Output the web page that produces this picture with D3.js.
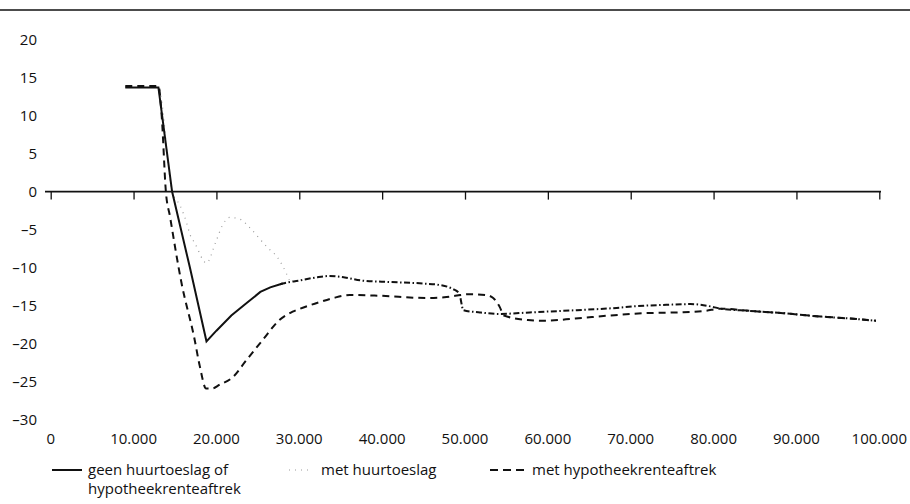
<!DOCTYPE html>
<html>
<head>
<meta charset="utf-8">
<script src="https://cdn.jsdelivr.net/npm/d3@7"></script>
<style>
  html, body { margin: 0; padding: 0; background: #fff; }
  svg { display: block; }
  text { font-family: "Open Sans", "Noto Sans", sans-serif; fill: #111; }
</style>
</head>
<body>
<svg id="chart" width="910" height="504"></svg>
<script>
// Income (euro) on x, percentage difference on y
const xTicks = [0, 10000, 20000, 30000, 40000, 50000, 60000, 70000, 80000, 90000, 100000];
const yTicks = [20, 15, 10, 5, 0, -5, -10, -15, -20, -25, -30];

// geen huurtoeslag of hypotheekrenteaftrek
const geenIncome = [9000, 13000, 14650, 16800, 18800, 20000, 21800, 23500, 25300, 26500, 27700,
  28000, 30000, 32000, 33600, 35500, 37500, 41000, 45000, 47000, 48500, 49300, 49800, 51800, 54200,
  57800, 63500, 68300, 70300, 74300, 77200, 79600, 80800, 84400, 88400, 92400, 96500, 99600];
const geenValue = [13.7, 13.7, 0, -10, -19.7, -18.3, -16.3, -14.8, -13.2, -12.6, -12.2,
  -12.1, -11.7, -11.3, -11.1, -11.3, -11.7, -11.9, -12.1, -12.3, -12.8, -13.4, -15.6, -15.9, -16.1,
  -15.9, -15.6, -15.3, -15.1, -14.9, -14.8, -15.1, -15.4, -15.7, -16.0, -16.4, -16.7, -17.0];

// met huurtoeslag (differs from the base case only at low incomes)
const huurIncome = [9000, 13000, 14650, 15600, 16400, 16800, 17400, 18800, 19900, 20700, 21600,
  23000, 23800, 26200, 27400, 28000, 28900];
const huurValue = [13.7, 13.7, 0, -1.8, -4.1, -5.6, -6.8, -9.4, -6.7, -4.5, -3.4,
  -3.7, -4.5, -7.4, -8.7, -9.8, -11.9];

// met hypotheekrenteaftrek
const hypoIncome = [9000, 13000, 13400, 13900, 14400, 15800, 17300, 18000, 18750, 19500, 20400,
  22000, 23600, 25600, 27600, 29200, 30100, 32300, 34100, 36100, 39700, 45400, 47500, 50600, 52500,
  53400, 54200, 54700, 57600, 59500, 63300, 67500, 71500, 75500, 79000, 80800, 84400, 88400, 92400,
  96500, 99600];
const hypoValue = [13.9, 13.9, 9.9, 0, -3.3, -12.1, -19.1, -23.0, -25.9, -25.9, -25.4,
  -24.4, -22.2, -19.5, -16.9, -15.8, -15.4, -14.6, -14.0, -13.6, -13.7, -14.0, -13.9, -13.5, -13.6,
  -14.0, -15.2, -16.3, -16.9, -17.0, -16.7, -16.3, -16.0, -15.9, -15.7, -15.4, -15.7, -16.0, -16.4,
  -16.7, -17.0];

const legendLabels = [["geen huurtoeslag of", "hypotheekrenteaftrek"], ["met huurtoeslag"], ["met hypotheekrenteaftrek"]];

const fmtNum = d3.formatLocale({ decimal: ",", thousands: ".", grouping: [3], currency: ["€", ""], minus: "\u2013" }).format(",d");

const svg = d3.select("#chart");
const x = d3.scaleLinear().domain([0, 100000]).range([50.7, 879.3]);
const y = d3.scaleLinear().domain([-30, 20]).range([419.6, 39.6]);

const zip = (xs, ys) => xs.map((v, i) => ({ x: v, y: ys[i] }));
const geen = zip(geenIncome, geenValue);
const huur = zip(huurIncome, huurValue);
const hypo = zip(hypoIncome, hypoValue);

// top rule
svg.append("line").attr("x1", 0).attr("x2", 910).attr("y1", 10).attr("y2", 10)
  .attr("stroke", "#111").attr("stroke-width", 1.5);

// y labels
svg.append("g").selectAll("text").data(yTicks).join("text")
  .attr("x", 37).attr("y", d => y(d)).attr("dy", "0.35em")
  .attr("text-anchor", "end").attr("font-size", 15)
  .text(d => fmtNum(d));

// x axis along zero
const xAxis = svg.append("g").attr("transform", `translate(0,${y(0)})`)
  .call(d3.axisBottom(x).tickValues(xTicks).tickSize(8).tickFormat(""));
xAxis.select(".domain").remove();
xAxis.selectAll(".tick line").attr("stroke", "#111").attr("stroke-width", 1.3);
svg.append("line").attr("x1", 45).attr("x2", 881).attr("y1", y(0)).attr("y2", y(0))
  .attr("stroke", "#111").attr("stroke-width", 1.6);

// x labels along the bottom
svg.append("g").selectAll("text").data(xTicks).join("text")
  .attr("x", d => x(d)).attr("y", 439).attr("dy", "0.35em")
  .attr("text-anchor", "middle").attr("font-size", 15)
  .text(d => fmtNum(d));

const line = d3.line().x(d => x(d.x)).y(d => y(d.y));
const smooth = d3.line().x(d => x(d.x)).y(d => y(d.y)).curve(d3.curveMonotoneX);

// met huurtoeslag: light dotted
svg.append("path").datum(huur).attr("d", smooth)
  .attr("fill", "none").attr("stroke", "#9a9a9a").attr("stroke-width", 1.2)
  .attr("stroke-dasharray", "1,5");

// met hypotheekrenteaftrek: dashed
svg.append("path").datum(hypo).attr("d", smooth)
  .attr("fill", "none").attr("stroke", "#111").attr("stroke-width", 2)
  .attr("stroke-dasharray", "7,5");

// base case: solid at low incomes, dash-dot once the curves coincide
svg.append("path").datum(geen.filter(d => d.x <= 28000)).attr("d", line)
  .attr("fill", "none").attr("stroke", "#111").attr("stroke-width", 2);
svg.append("path").datum(geen.filter(d => d.x >= 27700)).attr("d", smooth)
  .attr("fill", "none").attr("stroke", "#111").attr("stroke-width", 2)
  .attr("stroke-dasharray", "6,2.5,1.5,2.5");

// legend
const lg = svg.append("g");
const ly = 470;
lg.append("line").attr("x1", 52).attr("x2", 82).attr("y1", ly).attr("y2", ly)
  .attr("stroke", "#111").attr("stroke-width", 2);
lg.append("line").attr("x1", 289).attr("x2", 311).attr("y1", ly).attr("y2", ly)
  .attr("stroke", "#9a9a9a").attr("stroke-width", 1.2).attr("stroke-dasharray", "1,5");
lg.append("line").attr("x1", 490).attr("x2", 528).attr("y1", ly).attr("y2", ly)
  .attr("stroke", "#111").attr("stroke-width", 2).attr("stroke-dasharray", "8,5");
const lx = [88, 321, 532];
legendLabels.forEach((lines, i) => {
  const t = lg.append("text").attr("y", ly).attr("font-size", 15);
  lines.forEach((s, j) => t.append("tspan").attr("x", lx[i]).attr("dy", j === 0 ? "0.35em" : "19").text(s));
});
</script>
</body>
</html>
